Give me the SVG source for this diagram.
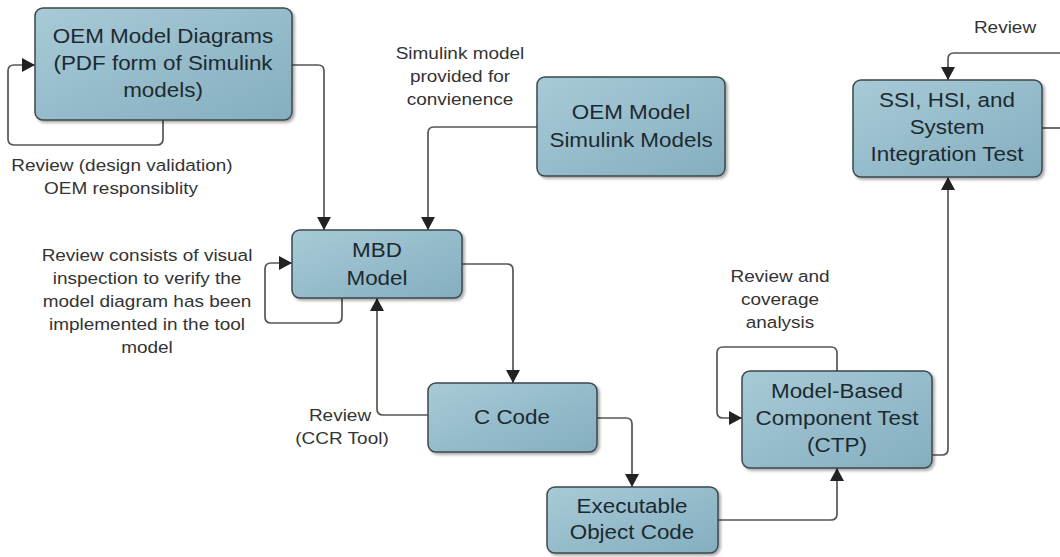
<svg xmlns="http://www.w3.org/2000/svg" width="1060" height="557" viewBox="0 0 1060 557">
<defs>
<linearGradient id="boxfill" x1="0" y1="0" x2="1" y2="1">
<stop offset="0" stop-color="#a8cad7"/>
<stop offset="1" stop-color="#84aebf"/>
</linearGradient>
<filter id="shadow" x="-10%" y="-10%" width="130%" height="130%">
<feGaussianBlur in="SourceAlpha" stdDeviation="1.5"/>
<feOffset dx="2" dy="2" result="b"/>
<feComponentTransfer><feFuncA type="linear" slope="0.35"/></feComponentTransfer>
<feMerge><feMergeNode/><feMergeNode in="SourceGraphic"/></feMerge>
</filter>
<marker id="arr" markerUnits="userSpaceOnUse" markerWidth="14" markerHeight="14" refX="13" refY="7" orient="auto">
<path d="M0,0 L13,7 L0,14 z" fill="#222"/>
</marker>
<style>
.box{fill:url(#boxfill);stroke:#3b484d;stroke-width:1.5;filter:url(#shadow)}
.nt{font-family:"Liberation Sans",Arial,sans-serif;font-size:19.5px;fill:#1c2a30;text-anchor:middle}
.lb{font-family:"Liberation Sans",Arial,sans-serif;font-size:16.5px;fill:#333;text-anchor:middle}
.cn{fill:none;stroke:#555;stroke-width:1.7}
.ca{fill:none;stroke:#555;stroke-width:1.7;marker-end:url(#arr)}
</style>
</defs>
<rect width="1060" height="557" fill="#fff"/>

<g id="connectors">
<path class="ca" d="M163,120 V139 Q163,145 157,145 H14 Q8,145 8,139 V71 Q8,65 14,65 H35"/>
<path class="ca" d="M292,65 H318 Q324,65 324,71 V230"/>
<path class="ca" d="M537,127 H434 Q428,127 428,133 V230"/>
<path class="ca" d="M342,298 V317 Q342,323 336,323 H271 Q265,323 265,317 V269 Q265,263 271,263 H292"/>
<path class="ca" d="M462,264 H507 Q513,264 513,270 V383"/>
<path class="ca" d="M428,415 H383 Q377,415 377,409 V298"/>
<path class="ca" d="M597,418 H626 Q632,418 632,424 V487"/>
<path class="ca" d="M718,520 H831 Q837,520 837,514 V468"/>
<path class="ca" d="M837,371 V353 Q837,347 831,347 H723 Q717,347 717,353 V412 Q717,418 723,418 H742"/>
<path class="ca" d="M932,455 H942 Q948,455 948,449 V177"/>
<path class="cn" d="M1042,128 H1062"/>
<path class="ca" d="M1062,53 H954 Q948,53 948,59 V80"/>
</g>

<g id="labels">
<text class="lb" transform="translate(122,171) scale(1.15 1)">Review (design validation)</text>
<text class="lb" transform="translate(121,194) scale(1.15 1)">OEM responsiblity</text>
<text class="lb" transform="translate(460,59) scale(1.15 1)">Simulink model</text>
<text class="lb" transform="translate(460,82) scale(1.15 1)">provided for</text>
<text class="lb" transform="translate(460,105) scale(1.15 1)">convienence</text>
<text class="lb" transform="translate(147,261) scale(1.15 1)">Review consists of visual</text>
<text class="lb" transform="translate(147,284) scale(1.15 1)">inspection to verify the</text>
<text class="lb" transform="translate(147,307) scale(1.15 1)">model diagram has been</text>
<text class="lb" transform="translate(147,330) scale(1.15 1)">implemented in the tool</text>
<text class="lb" transform="translate(147,353) scale(1.15 1)">model</text>
<text class="lb" transform="translate(340,421) scale(1.15 1)">Review</text>
<text class="lb" transform="translate(342,444) scale(1.15 1)">(CCR Tool)</text>
<text class="lb" transform="translate(780,282) scale(1.15 1)">Review and</text>
<text class="lb" transform="translate(780,305) scale(1.15 1)">coverage</text>
<text class="lb" transform="translate(780,328) scale(1.15 1)">analysis</text>
<text class="lb" transform="translate(1005,33) scale(1.15 1)">Review</text>
</g>

<g id="oem-diagrams">
<rect class="box" x="35" y="8" width="257" height="112" rx="8"/>
<text class="nt" transform="translate(163,43) scale(1.15 1)">OEM Model Diagrams</text>
<text class="nt" transform="translate(163,70) scale(1.15 1)">(PDF form of Simulink</text>
<text class="nt" transform="translate(163,97) scale(1.15 1)">models)</text>
</g>

<g id="oem-simulink">
<rect class="box" x="537" y="77" width="188" height="99" rx="8"/>
<text class="nt" transform="translate(631,119) scale(1.15 1)">OEM Model</text>
<text class="nt" transform="translate(631,147) scale(1.15 1)">Simulink Models</text>
</g>

<g id="ssi">
<rect class="box" x="853" y="80" width="189" height="97" rx="8"/>
<text class="nt" transform="translate(947,107) scale(1.15 1)">SSI, HSI, and</text>
<text class="nt" transform="translate(947,134) scale(1.15 1)">System</text>
<text class="nt" transform="translate(947,161) scale(1.15 1)">Integration Test</text>
</g>

<g id="mbd">
<rect class="box" x="292" y="230" width="170" height="68" rx="8"/>
<text class="nt" transform="translate(377,257) scale(1.15 1)">MBD</text>
<text class="nt" transform="translate(377,285) scale(1.15 1)">Model</text>
</g>

<g id="ccode">
<rect class="box" x="428" y="383" width="169" height="69" rx="8"/>
<text class="nt" transform="translate(512,424) scale(1.15 1)">C Code</text>
</g>

<g id="exec">
<rect class="box" x="547" y="487" width="171" height="66" rx="8"/>
<text class="nt" transform="translate(632,513) scale(1.15 1)">Executable</text>
<text class="nt" transform="translate(632,539) scale(1.15 1)">Object Code</text>
</g>

<g id="ctp">
<rect class="box" x="742" y="371" width="190" height="97" rx="8"/>
<text class="nt" transform="translate(837,398) scale(1.15 1)">Model-Based</text>
<text class="nt" transform="translate(837,425) scale(1.15 1)">Component Test</text>
<text class="nt" transform="translate(837,452) scale(1.15 1)">(CTP)</text>
</g>
</svg>
